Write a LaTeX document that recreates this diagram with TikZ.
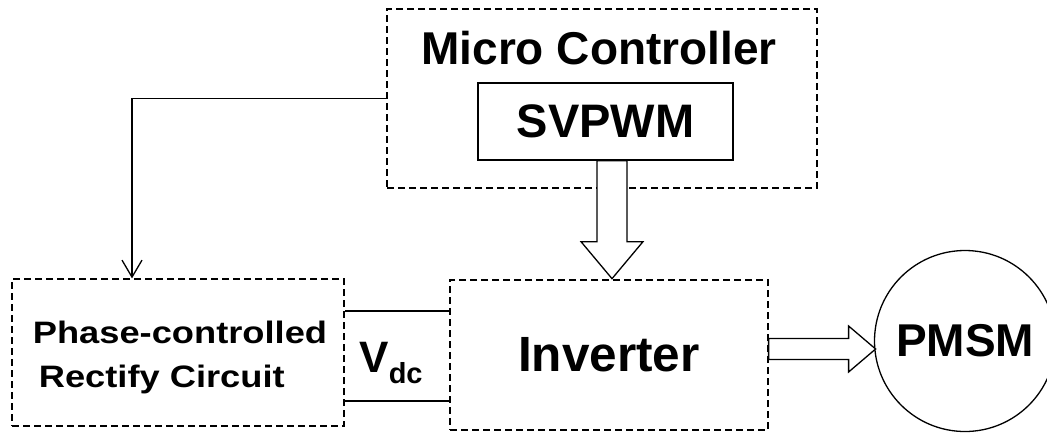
\documentclass[tikz,border=0pt]{standalone}
\usepackage{fontspec}
\setmainfont{Liberation Sans}
\usetikzlibrary{arrows.meta,calc}

\begin{document}
\begin{tikzpicture}[x=1pt,y=-1pt,
        dashbox/.style={draw,dash pattern=on 7pt off 4pt,line width=1.2pt,inner sep=0pt},
        solidbox/.style={draw,line width=1.3pt,inner sep=0pt},
        bigtext/.style={font=\fontsize{#1}{#1}\selectfont\bfseries},
        blockarrow/.style={draw,line width=1.3pt,fill=white,line join=miter},
        wire/.style={line width=1.3pt},
        feedback/.style={line width=1.3pt,-{Straight Barb[length=17pt,width=20pt]}}]
        \useasboundingbox (0,0) rectangle (1047,432);
        % Controller
        \node[dashbox,minimum width=430pt,minimum height=179pt] (mcu) at (602,98.5) {};
        \node[bigtext=46,anchor=base] (mcutitle) at (599,64) {Micro Controller};
        \node[solidbox,bigtext=47,minimum width=255pt,minimum height=77pt] (svpwm) at (605.5,121.5) {SVPWM};
        % Power stage
        \node[dashbox,minimum width=332pt,minimum height=147pt] (rect) at (178,352.5) {};
        \node[align=left,font=\fontsize{31}{44}\selectfont\bfseries] (recttext) at (180,357)
              {\scalebox{1.17}[1]{Phase-controlled}\\\hspace*{6pt}\scalebox{1.17}[1]{Rectify Circuit}};
        \node[dashbox,bigtext=49.5,minimum width=318pt,minimum height=150pt] (inverter) at (609,355) {Inverter};
        \node[circle,draw,line width=1.3pt,minimum size=181pt,inner sep=0pt,bigtext=46] (pmsm) at (965,341) {PMSM};
        % DC link
        \draw[wire] ([yshift=44pt]inverter.west) -- ([yshift=44pt]inverter.west -| rect.east);
        \draw[wire] ([yshift=-46pt]inverter.west) -- ([yshift=-46pt]inverter.west -| rect.east);
        \node[anchor=base] (vdc) at (391,372)
              {\fontsize{44}{44}\selectfont\bfseries V\raisebox{-11pt}{\fontsize{29}{29}\selectfont\bfseries dc}};
        % Firing angle
        \draw[feedback] (mcu.west) -| ([xshift=-46pt]rect.north);
        % Gate signals
        \coordinate (svout) at ([xshift=6.5pt]svpwm.south);
        \draw[blockarrow] ($(svout)+(-15,0)$) -- ++(0,81) -- ++(-16,0) -- ($(svout)+(0,118)$)
              -- ++(31,-37) -- ++(-16,0) -- ($(svout)+(15,0)$) -- cycle;
        % Phase currents
        \coordinate (ivout) at ([yshift=6pt]inverter.east);
        \draw[blockarrow] ($(ivout)+(0,-10.5)$) -- ++(80,0) -- ++(0,-12.5) -- ($(ivout)+(107,0)$)
              -- ++(-27,23) -- ++(0,-12.5) -- ($(ivout)+(0,10.5)$) -- cycle;
    \end{tikzpicture}
\end{document}
